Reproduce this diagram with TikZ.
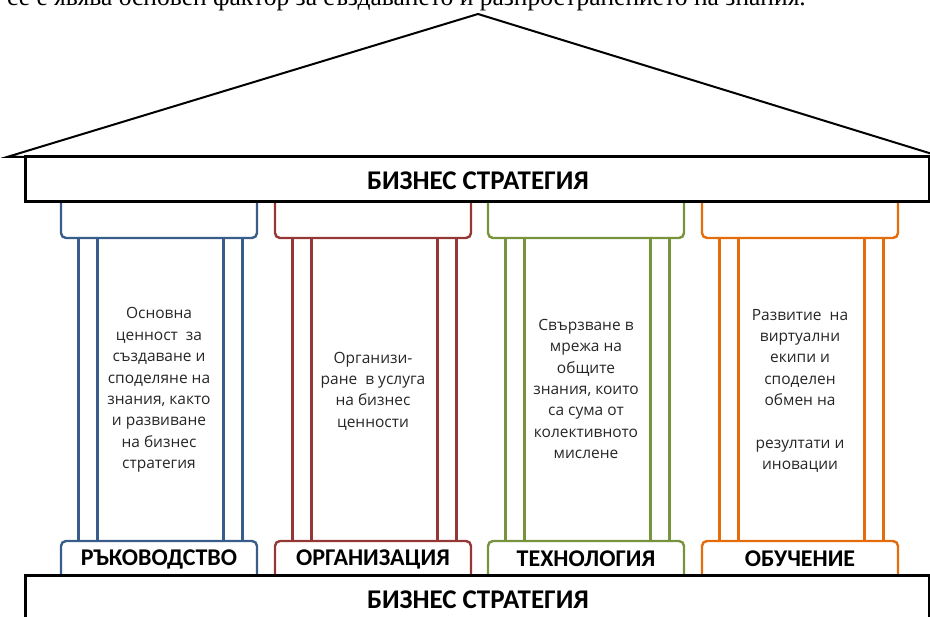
\documentclass[tikz,border=0pt]{standalone}
\usepackage{fontspec}
\setmainfont{Carlito}
\newfontfamily\pagefont{Liberation Serif}
\newfontfamily\notefont{Open Sans}
\usepackage{xcolor}
\definecolor{pilblue}{HTML}{385D8A}
\definecolor{pilred}{HTML}{953735}
\definecolor{pilgreen}{HTML}{77933C}
\definecolor{pilorange}{HTML}{E46C0A}

\begin{document}
\begin{tikzpicture}[x=1pt,y=-1pt,
  band/.style={draw=black,line width=3pt,fill=white},
  capital/.style={line width=2.4pt,rounded corners=5pt},
  shaft/.style={line width=3pt},
  pillartext/.style={align=center,text=black!85,font=\notefont\fontsize{15.5}{21.4}\selectfont},
  pillarlabel/.style={font=\bfseries\fontsize{24}{26}\selectfont},
  bandtitle/.style={font=\bfseries\fontsize{27}{30}\selectfont}]
  \clip (0,0) rectangle (930,617);
  % line of page text, cut by the crop
  \node[anchor=base west,inner sep=0pt,font=\pagefont\fontsize{25.5}{28}\selectfont] (pagetext) at (7,5.5) {се е явява основен фактор за създаването и разпространението на знания.};
  % roof
  \draw[line width=2pt] (7,157) -- (478,14) -- (942,157) -- cycle;
  % pillars
  \foreach \l/\c in {61/pilblue,275/pilred,488/pilgreen,702/pilorange} {
    \draw[capital,\c] (\l,202) -- (\l,238) -- (\l+196,238) -- (\l+196,202);
    \draw[capital,\c] (\l,576) -- (\l,541) -- (\l+196,541) -- (\l+196,576);
    \foreach \dx in {17,36,162,181}
      \draw[shaft,\c] (\l+\dx,238) -- (\l+\dx,541);
  }
  \node[pillartext] (txt1) at (159,390) {Основна\\ценност\ \ за\\създаване и\\споделяне на\\знания, както\\и развиване\\на бизнес\\стратегия};
  \node[pillartext] (txt2) at (373,391) {Организи-\\ране\ \ в услуга\\на бизнес\\ценности};
  \node[pillartext] (txt3) at (586,389) {Свързване в\\мрежа на\\общите\\знания, които\\са сума от\\колективното\\мислене};
  \node[pillartext] (txt4) at (800,391) {Развитие\ \ на\\виртуални\\екипи и\\споделен\\обмен на\\[21.4pt]резултати и\\иновации};
  \node[pillarlabel] (lab1) at (159,559) {РЪКОВОДСТВО};
  \node[pillarlabel] (lab2) at (373,559) {ОРГАНИЗАЦИЯ};
  \node[pillarlabel] (lab3) at (586,559) {ТЕХНОЛОГИЯ};
  \node[pillarlabel] (lab4) at (800,559) {ОБУЧЕНИЕ};
  % bands
  \draw[band] (25,157) rectangle (929,202);
  \node[bandtitle] (toptitle) at (478,181) {БИЗНЕС СТРАТЕГИЯ};
  \draw[band] (25,576) rectangle (929,640);
  \node[bandtitle] (bottomtitle) at (478,600) {БИЗНЕС СТРАТЕГИЯ};
\end{tikzpicture}
\end{document}
